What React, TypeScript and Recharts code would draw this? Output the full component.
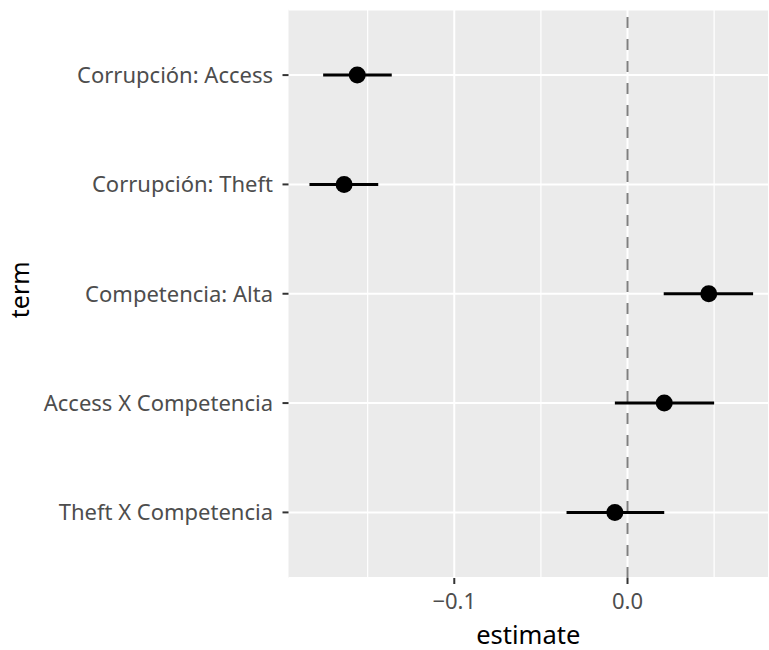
import React from "react";
import {
  ComposedChart,
  Scatter,
  XAxis,
  YAxis,
  CartesianGrid,
  ReferenceLine,
  ErrorBar,
} from "recharts";

const categories = [
  "Corrupción: Access",
  "Corrupción: Theft",
  "Competencia: Alta",
  "Access X Competencia",
  "Theft X Competencia",
];
const estimates = [-0.156, -0.1636, 0.0469, 0.0212, -0.0073];
const lowers = [-0.1757, -0.1836, 0.0209, -0.0073, -0.0352];
const uppers = [-0.1361, -0.1439, 0.0725, 0.05, 0.0212];
const xMajorTicks = [-0.1, 0];
const xMinorTicks = [-0.15, -0.05, 0.05];
const xDomain = [-0.1957, 0.0811];

const data = categories.map((term, i) => ({
  term,
  idx: i,
  estimate: estimates[i],
  ci: [estimates[i] - lowers[i], uppers[i] - estimates[i]],
}));

const FONT = "'Noto Sans', 'DejaVu Sans', sans-serif";

const fmtX = (v: number) => (v === 0 ? "0.0" : v < 0 ? "\u2212" + Math.abs(v).toFixed(1) : v.toFixed(1));

const Dot = (props: any) => {
  const { cx, cy } = props;
  if (cx == null || cy == null) return null;
  return <circle cx={cx} cy={cy} r={8.5} fill="#000000" />;
};

const TermLabel = (props: any) => {
  const vb = props.viewBox || {};
  const cy = (vb.y || 0) + (vb.height || 0) / 2 - 4;
  const cx = 19;
  return (
    <text
      x={cx}
      y={cy}
      transform={`rotate(-90, ${cx}, ${cy})`}
      textAnchor="middle"
      dominantBaseline="central"
      fill="#000000"
      fontSize={25}
      fontFamily={FONT}
    >
      term
    </text>
  );
};

export default function App() {
  return (
    <div style={{ position: "absolute", left: 0, top: 0, width: 769, height: 650, background: "#fff" }}>
      <ComposedChart
        width={769}
        height={650}
        data={data}
        margin={{ top: 9.5, right: 1, bottom: 0, left: 0 }}
      >
        <CartesianGrid
          fill="#EBEBEB"
          stroke="#FFFFFF"
          strokeWidth={2}
          vertical={false}
          horizontal={true}
        />
        {xMinorTicks.map((v) => (
          <ReferenceLine key={"mi" + v} x={v} stroke="#FFFFFF" strokeWidth={1.2} />
        ))}
        {xMajorTicks.map((v) => (
          <ReferenceLine key={"ma" + v} x={v} stroke="#FFFFFF" strokeWidth={2} />
        ))}
        <ReferenceLine x={0} stroke="#7F7F7F" strokeWidth={2} strokeDasharray="11 11" />
        <XAxis
          type="number"
          dataKey="estimate"
          domain={xDomain}
          allowDataOverflow
          ticks={xMajorTicks}
          tickFormatter={fmtX}
          height={72}
          axisLine={false}
          tickSize={6}
          tickLine={{ stroke: "#333333", strokeWidth: 2 }}
          tick={{ fill: "#4D4D4D", fontSize: 22, fontFamily: FONT }}
          tickMargin={9}
          label={{
            value: "estimate",
            position: "insideBottom",
            offset: 6,
            fill: "#000000",
            fontSize: 25.5,
            fontFamily: FONT,
          }}
        />
        <YAxis
          type="number"
          dataKey="idx"
          domain={[-0.6, 4.6]}
          reversed
          ticks={[0, 1, 2, 3, 4]}
          tickFormatter={(i: number) => categories[i]}
          width={288.5}
          axisLine={false}
          tickSize={6}
          tickLine={{ stroke: "#333333", strokeWidth: 2 }}
          tick={{ fill: "#4D4D4D", fontSize: 22, fontFamily: FONT }}
          tickMargin={9.5}
          label={<TermLabel />}
        />
        <Scatter data={data} dataKey="estimate" shape={<Dot />} isAnimationActive={false}>
          <ErrorBar
            dataKey="ci"
            direction="x"
            width={0}
            stroke="#000000"
            strokeWidth={3}
            isAnimationActive={false}
          />
        </Scatter>
      </ComposedChart>
    </div>
  );
}
